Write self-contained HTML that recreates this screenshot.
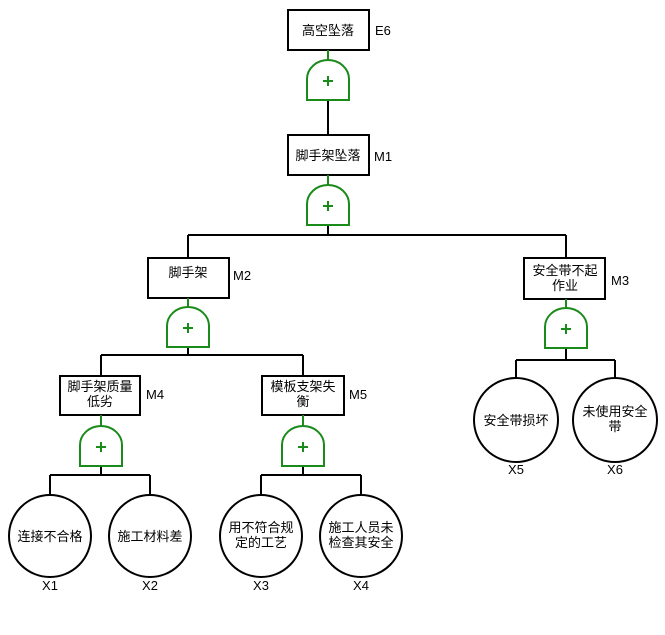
<!DOCTYPE html>
<html><head><meta charset="utf-8"><style>
html,body{margin:0;padding:0;background:#fff;}
svg{display:block;}
text{font-family:"Liberation Sans","Noto Sans CJK SC",sans-serif;font-size:13px;fill:#000;}
</style></head><body>
<svg id="s" width="665" height="635" xmlns="http://www.w3.org/2000/svg">
<g stroke="#000" stroke-width="2" fill="none">
<line x1="328" y1="100" x2="328" y2="135"/>
<line x1="328" y1="225" x2="328" y2="235"/>
<line x1="188" y1="235" x2="566" y2="235"/>
<line x1="188" y1="235" x2="188" y2="258"/>
<line x1="566" y1="235" x2="566" y2="258"/>
<line x1="188" y1="347" x2="188" y2="355"/>
<line x1="101" y1="355" x2="303" y2="355"/>
<line x1="101" y1="355" x2="101" y2="376"/>
<line x1="303" y1="355" x2="303" y2="376"/>
<line x1="101" y1="466" x2="101" y2="475"/>
<line x1="50" y1="475" x2="150" y2="475"/>
<line x1="50" y1="475" x2="50" y2="495"/>
<line x1="150" y1="475" x2="150" y2="495"/>
<line x1="303" y1="466" x2="303" y2="475"/>
<line x1="261" y1="475" x2="361" y2="475"/>
<line x1="261" y1="475" x2="261" y2="495"/>
<line x1="361" y1="475" x2="361" y2="495"/>
<line x1="566" y1="348" x2="566" y2="360"/>
<line x1="516" y1="360" x2="615" y2="360"/>
<line x1="516" y1="360" x2="516" y2="378"/>
<line x1="615" y1="360" x2="615" y2="378"/>
<rect x="288" y="10" width="81" height="40"/>
<rect x="288" y="135" width="81" height="40"/>
<rect x="148" y="258" width="81" height="40"/>
<rect x="524" y="258" width="81" height="41"/>
<rect x="60" y="376" width="80" height="39"/>
<rect x="262" y="376" width="82" height="39"/>
<circle cx="50" cy="536" r="41"/>
<circle cx="150" cy="536" r="41"/>
<circle cx="261" cy="536" r="41"/>
<circle cx="361" cy="536" r="41"/>
<circle cx="516" cy="420" r="42"/>
<circle cx="615" cy="420" r="42"/>
</g>
<g id="gates" stroke="#1a8a1a" stroke-width="2" fill="none"></g>
<g text-anchor="middle">
<text x="328" y="35">高空坠落</text>
<text x="328" y="160">脚手架坠落</text>
<text x="188" y="277">脚手架</text>
<text x="565" y="275">安全带不起</text>
<text x="565" y="290">作业</text>
<text x="100" y="391">脚手架质量</text>
<text x="100" y="406">低劣</text>
<text x="303" y="391">模板支架失</text>
<text x="303" y="406">衡</text>
<text x="50" y="541">连接不合格</text>
<text x="150" y="541">施工材料差</text>
<text x="261" y="532">用不符合规</text>
<text x="261" y="547">定的工艺</text>
<text x="361" y="532">施工人员未</text>
<text x="361" y="547">检查其安全</text>
<text x="516" y="425">安全带损坏</text>
<text x="615" y="416">未使用安全</text>
<text x="615" y="431">带</text>
<text x="50" y="590">X1</text>
<text x="150" y="590">X2</text>
<text x="261" y="590">X3</text>
<text x="361" y="590">X4</text>
<text x="516" y="474">X5</text>
<text x="615" y="474">X6</text>
</g>
<text x="375" y="35">E6</text>
<text x="374" y="161">M1</text>
<text x="233" y="280">M2</text>
<text x="611" y="285">M3</text>
<text x="146" y="399">M4</text>
<text x="349" y="399">M5</text>
</svg>
<script>
var g=document.getElementById('gates');
var gs=[[328,50,60],[328,175,185],[188,298,307],[566,299,308],[101,415,426],[303,415,426]];
var h='';
gs.forEach(function(a){var c=a[0],b=a[1],y=a[2];
h+='<line x1="'+c+'" y1="'+b+'" x2="'+c+'" y2="'+y+'"/>';
h+='<path d="M'+(c-21)+' '+(y+40)+' L'+(c-21)+' '+(y+19)+' A21 19 0 0 1 '+(c+21)+' '+(y+19)+' L'+(c+21)+' '+(y+40)+' Z"/>';
h+='<line x1="'+(c-5)+'" y1="'+(y+21)+'" x2="'+(c+5)+'" y2="'+(y+21)+'"/>';
h+='<line x1="'+c+'" y1="'+(y+16)+'" x2="'+c+'" y2="'+(y+26)+'"/>';
});
g.innerHTML=h;
</script>
</body></html>
